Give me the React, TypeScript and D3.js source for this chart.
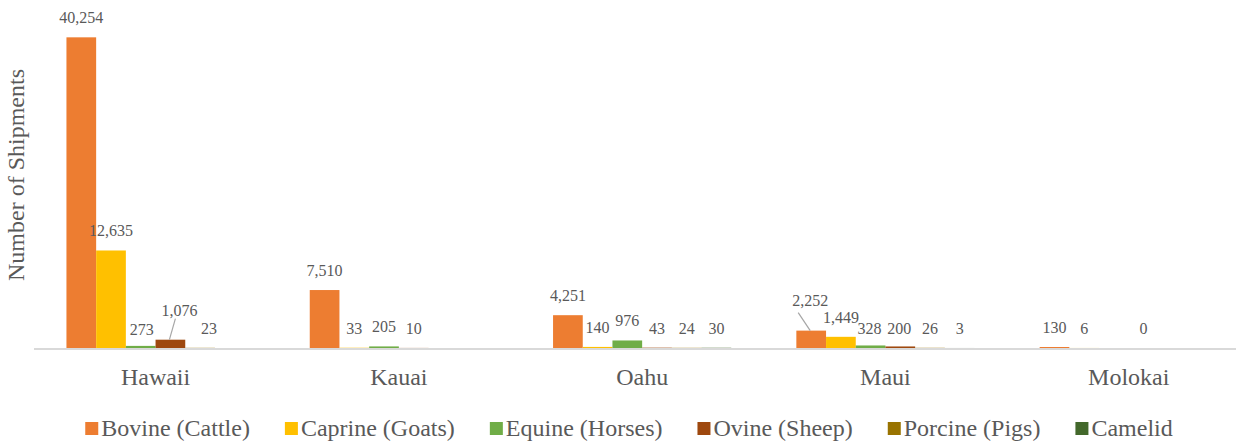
import React, { useEffect, useRef } from 'react';
import * as d3 from 'd3';

const categories = ['Hawaii', 'Kauai', 'Oahu', 'Maui', 'Molokai'];
const seriesNames = ['Bovine (Cattle)', 'Caprine (Goats)', 'Equine (Horses)', 'Ovine (Sheep)', 'Porcine (Pigs)', 'Camelid'];
const bovine = [40254, 7510, 4251, 2252, 130];
const caprine = [12635, 33, 140, 1449, 6];
const equine = [273, 205, 976, 328, null];
const ovine = [1076, 10, 43, 200, 0];
const porcine = [23, null, 24, 26, null];
const camelid = [null, null, 30, 3, null];
const seriesValues = [bovine, caprine, equine, ovine, porcine, camelid];
const colors = ['#ED7D31', '#FFC000', '#70AD47', '#9E480E', '#997300', '#43682B'];

// manual data-label placement tweaks (label moved in the original chart)
const labelTweaks: Record<string, { dx: number; dy: number; leader?: [number, number] }> = {
  'Ovine (Sheep)|Hawaii': { dx: 9, dy: -10, leader: [-4, 3] },
  'Porcine (Pigs)|Hawaii': { dx: 9, dy: 0 },
  'Equine (Horses)|Hawaii': { dx: 1, dy: 3 },
  'Bovine (Cattle)|Maui': { dx: -1, dy: -11, leader: [-12, 7] },
  'Equine (Horses)|Maui': { dx: -1, dy: 3 },
  'Ovine (Sheep)|Maui': { dx: -1, dy: 2 },
};

const W = 1236;
const H = 441;
const FONT = "'Liberation Serif', Tinos, 'Times New Roman', 'DejaVu Serif', serif";
const TEXT = '#595959';

export default function App() {
  const ref = useRef<SVGSVGElement | null>(null);

  useEffect(() => {
    const svg = d3.select(ref.current);
    svg.selectAll('*').remove();

    const baseY = 348;
    const x0 = d3.scaleBand<string>().domain(categories).range([33.9, 1250.4]).paddingInner(0).paddingOuter(0);
    const groupW = 178.2;
    const off = (x0.bandwidth() - groupW) / 2;
    const x1 = d3.scaleBand<string>().domain(seriesNames).range([off, off + groupW]).padding(0);
    const y = d3.scaleLinear().domain([0, 45000]).range([baseY, 0.7]);

    const g = svg.append('g').style('font-family', FONT);

    // bars
    seriesNames.forEach((s, si) => {
      seriesValues[si].forEach((v, ci) => {
        if (v === null) return;
        const c = categories[ci];
        const bx = (x0(c) as number) + (x1(s) as number);
        g.append('rect')
          .attr('x', bx)
          .attr('y', y(v))
          .attr('width', x1.bandwidth())
          .attr('height', baseY - y(v))
          .attr('fill', colors[si]);
      });
    });

    // axis line
    g.append('line')
      .attr('x1', 34).attr('x2', W)
      .attr('y1', baseY + 1).attr('y2', baseY + 1)
      .attr('stroke', '#D9D9D9').attr('stroke-width', 2);

    // data labels
    const fmt = d3.format(',');
    seriesNames.forEach((s, si) => {
      seriesValues[si].forEach((v, ci) => {
        if (v === null) return;
        const c = categories[ci];
        const cx = (x0(c) as number) + (x1(s) as number) + x1.bandwidth() / 2;
        const top = y(v);
        const tw = labelTweaks[`${s}|${c}`] || { dx: 0, dy: 0 };
        const lx = cx + tw.dx;
        const ly = top - 14 + tw.dy;
        if (tw.leader) {
          g.append('line')
            .attr('x1', lx + tw.leader[0]).attr('y1', ly + tw.leader[1])
            .attr('x2', cx - 1).attr('y2', top)
            .attr('stroke', '#A6A6A6').attr('stroke-width', 1.2);
        }
        g.append('text')
          .attr('x', lx).attr('y', ly)
          .attr('text-anchor', 'middle')
          .style('font-size', '16px')
          .attr('fill', TEXT)
          .text(fmt(v));
      });
    });

    // category labels
    categories.forEach((c) => {
      g.append('text')
        .attr('x', (x0(c) as number) + x0.bandwidth() / 2)
        .attr('y', 385)
        .attr('text-anchor', 'middle')
        .style('font-size', '24px')
        .attr('fill', TEXT)
        .text(c);
    });

    // y axis title
    g.append('text')
      .attr('transform', 'translate(24,175) rotate(-90)')
      .attr('text-anchor', 'middle')
      .style('font-size', '24px')
      .attr('fill', TEXT)
      .text('Number of Shipments');

    // legend
    const lg = g.append('g');
    const sq = 13;
    const gapText = 3;
    const gapItem = 35;
    let cur = 0;
    const items: { x: number; node: any }[] = [];
    seriesNames.forEach((s, si) => {
      const it = lg.append('g');
      it.append('rect').attr('x', 0).attr('y', 422).attr('width', sq).attr('height', sq).attr('fill', colors[si]);
      const t = it.append('text')
        .attr('x', sq + gapText).attr('y', 436)
        .style('font-size', '24px')
        .attr('fill', TEXT)
        .text(s);
      const tl = (t.node() as SVGTextElement).getComputedTextLength();
      items.push({ x: cur, node: it });
      cur += sq + gapText + tl + gapItem;
    });
    const total = cur - gapItem;
    const start = 629 - total / 2;
    items.forEach((it) => it.node.attr('transform', `translate(${start + it.x},0)`));
  }, []);

  return (
    <svg
      ref={ref}
      width={W}
      height={H}
      style={{ position: 'absolute', left: 0, top: 0, display: 'block', background: '#fff' }}
    />
  );
}
